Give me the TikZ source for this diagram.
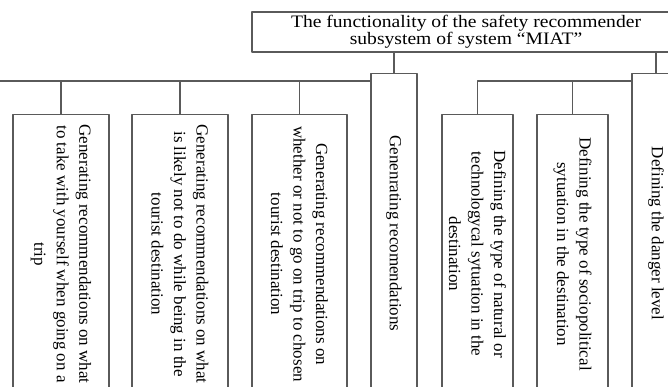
\documentclass[tikz,border=0pt]{standalone}
\usepackage{fontspec}
\setmainfont{Liberation Serif}
\newfontfamily\widefont[FakeStretch=1.12]{Liberation Serif}
\definecolor{linegray}{RGB}{90,90,90}
\begin{document}
\begin{tikzpicture}[x=1pt,y=-1pt,line cap=round,line join=round]
	\def\l{279}\def\L{320}
	\tikzset{box/.style={draw=linegray,line width=1.2pt,inner sep=2pt},
		leaf/.style={box,rotate=-90,anchor=west,align=center,minimum height=#1,font=\fontsize{17}{22.5}\selectfont},
		link/.style={draw=linegray,line width=1.2pt}}
	\useasboundingbox (0,0) rectangle (668,387);
	\clip (0,0) rectangle (668,387);
	\node[box,minimum width=428,minimum height=40,align=center,font=\widefont\fontsize{17.5}{17}\selectfont] (func) at (466,32) {The functionality of the safety recommender\\subsystem of system “MIAT”};
	\node[leaf=96,minimum width=\l] (take) at (61,114) {Generating recommendations on what\\to take with yourself when going on a\\trip};
	\node[leaf=96,minimum width=\l] (avoid) at (180,114) {Generating recommendations on what\\is likely not to do while being in the\\tourist destination};
	\node[leaf=95,minimum width=\l] (go) at (299.5,114) {Generating recommendations on\\whether or not to go on trip to chosen\\tourist destination};
	\node[leaf=46,minimum width=\L] (gen) at (394,73) {Genenrating recomendations};
	\node[leaf=71,minimum width=\l] (natural) at (477.5,114) {Defining the type of natural or\\technologycal sytuation in the\\destination};
	\node[leaf=71,minimum width=\l] (social) at (572.5,114) {Defining the type of sociopolitical\\sytuation in the destination};
	\node[leaf=48,minimum width=\L] (danger) at (656,73) {Defining the danger level};
	\coordinate (bus) at (0,81);
	\draw[link] (gen.west) -- (gen.west |- func.south);
	\draw[link] (danger.west) -- (danger.west |- func.south);
	\draw[link] (gen.south west |- bus) -- (bus);
	\foreach \n in {take,avoid,go}{\draw[link] (\n.west) -- (\n.west |- bus);}
	\draw[link] (danger.south west |- bus) -- (natural.west |- bus) -- (natural.west);
	\draw[link] (social.west) -- (social.west |- bus);
\end{tikzpicture}
\end{document}
